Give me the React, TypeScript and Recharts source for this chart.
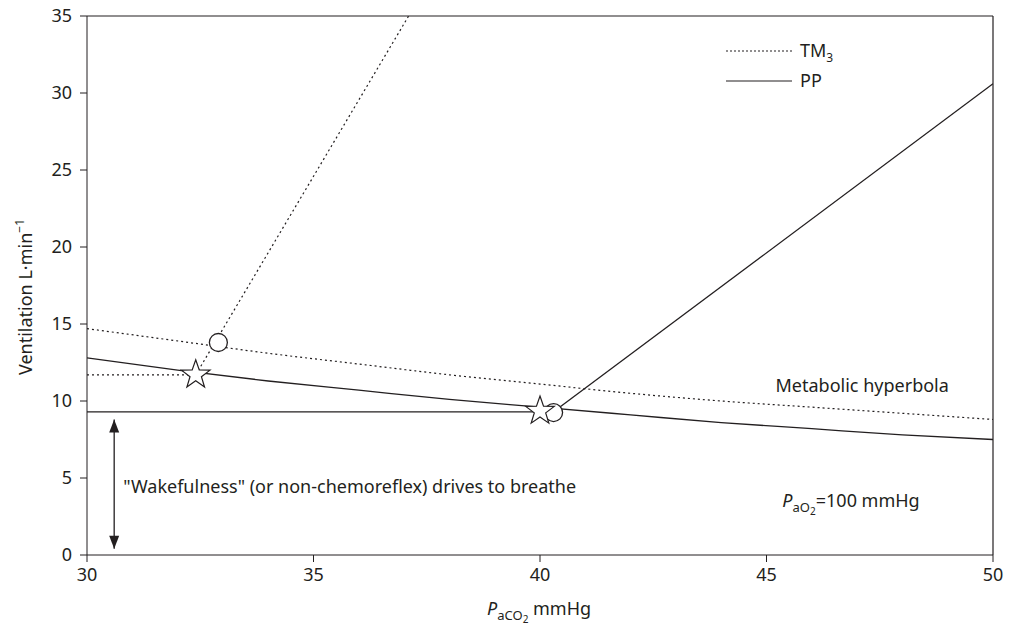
import { ComposedChart, Line, Scatter, XAxis, YAxis, ReferenceLine, Legend } from "recharts";

const INK = "#231f20";
const FONT = "'Noto Sans', sans-serif";

const xTicks = [30, 35, 40, 45, 50];
const yTicks = [0, 5, 10, 15, 20, 25, 30, 35];

// metabolic hyperbola for TM3 (dotted) and PP (solid)
const hyperTM3 = [
  { x: 30, y: 14.7 },
  { x: 32, y: 13.9 },
  { x: 34, y: 13.1 },
  { x: 36, y: 12.4 },
  { x: 38, y: 11.7 },
  { x: 40, y: 11.1 },
  { x: 42, y: 10.5 },
  { x: 44, y: 10.0 },
  { x: 46, y: 9.6 },
  { x: 48, y: 9.2 },
  { x: 50, y: 8.8 },
];
const hyperPP = [
  { x: 30, y: 12.8 },
  { x: 32, y: 12.0 },
  { x: 34, y: 11.3 },
  { x: 36, y: 10.7 },
  { x: 38, y: 10.1 },
  { x: 40, y: 9.6 },
  { x: 42, y: 9.1 },
  { x: 44, y: 8.6 },
  { x: 46, y: 8.2 },
  { x: 48, y: 7.8 },
  { x: 50, y: 7.5 },
];

// chemoreflex response lines
const tm3Flat = [
  { x: 30, y: 11.7 },
  { x: 32.4, y: 11.7 },
];
const tm3Rise = [
  { x: 32.4, y: 11.7 },
  { x: 37.1, y: 35 },
];
const ppFlat = [
  { x: 30, y: 9.3 },
  { x: 40, y: 9.3 },
];
const ppRise = [
  { x: 40.3, y: 9.3 },
  { x: 50, y: 30.6 },
];

// markers
const stars = [
  { x: 32.4, y: 11.7 },
  { x: 40.0, y: 9.35 },
];
const circles = [
  { x: 32.9, y: 13.8 },
  { x: 40.3, y: 9.25 },
];

// double arrow ("wakefulness" drive)
const wakeArrow = [
  { x: 30.6, y: 8.8 },
  { x: 30.6, y: 0.4 },
];

// text anchors (baseline of text)
const hyperNote = [{ x: 45.2, y: 10.6 }];
const wakeNote = [{ x: 30.8, y: 4.05 }];
const pao2Note = [{ x: 45.35, y: 3.1 }];

const StarShape = (p: any) => {
  const { cx, cy } = p;
  const pts: string[] = [];
  for (let i = 0; i < 10; i++) {
    const r = i % 2 === 0 ? 15 : 6;
    const a = -Math.PI / 2 + (i * Math.PI) / 5;
    pts.push(`${cx + r * Math.cos(a)},${cy + r * Math.sin(a)}`);
  }
  return <polygon points={pts.join(" ")} fill="#fff" stroke={INK} strokeWidth={1.2} />;
};

const CircleShape = (p: any) => (
  <circle cx={p.cx} cy={p.cy} r={9} fill="#fff" stroke={INK} strokeWidth={1.3} />
);

const ArrowHead = (p: any) => {
  const { cx, cy, index } = p;
  const d = index === 0 ? 1 : -1;
  return (
    <polygon
      key={`ah-${index}`}
      points={`${cx},${cy} ${cx - 5},${cy + d * 13} ${cx + 5},${cy + d * 13}`}
      fill={INK}
    />
  );
};

const HyperText = (p: any) => (
  <text x={p.cx} y={p.cy} fontSize={18} fontFamily={FONT} fill={INK}>
    Metabolic hyperbola
  </text>
);

const WakeText = (p: any) => (
  <text x={p.cx} y={p.cy} fontSize={18} fontFamily={FONT} fill={INK}>
    "Wakefulness" (or non-chemoreflex) drives to breathe
  </text>
);

const Pao2Text = (p: any) => (
  <text x={p.cx} y={p.cy} fontSize={18} fontFamily={FONT} fill={INK}>
    <tspan fontStyle="italic">P</tspan>
    <tspan fontSize={13} dy={5}>aO</tspan>
    <tspan fontSize={10} dy={3}>2</tspan>
    <tspan fontSize={18} dy={-8}>=100 mmHg</tspan>
  </text>
);

const XLabel = () => (
  <text x={487} y={615} fontSize={18} fontFamily={FONT} fill={INK}>
    <tspan fontStyle="italic">P</tspan>
    <tspan fontSize={13} dy={5}>aCO</tspan>
    <tspan fontSize={10} dy={3}>2</tspan>
    <tspan fontSize={18} dy={-8}> mmHg</tspan>
  </text>
);

const YLabel = () => (
  <text
    x={32}
    y={297}
    fontSize={18}
    fontFamily={FONT}
    fill={INK}
    textAnchor="middle"
    transform="rotate(-90, 32, 297)"
  >
    Ventilation L·min
    <tspan fontSize={12} dy={-8}>−1</tspan>
  </text>
);

const LegendBox = () => (
  <svg width={140} height={60}>
    <line x1={6} y1={15} x2={72} y2={15} stroke={INK} strokeWidth={1.2} strokeDasharray="2 2" />
    <text x={80} y={21} fontSize={18} fontFamily={FONT} fill={INK}>
      TM<tspan fontSize={12} dy={5}>3</tspan>
    </text>
    <line x1={6} y1={45} x2={72} y2={45} stroke={INK} strokeWidth={1.2} />
    <text x={80} y={51} fontSize={18} fontFamily={FONT} fill={INK}>
      PP
    </text>
  </svg>
);

export default function App() {
  const tick = { fontSize: 18, fontFamily: FONT, fill: INK };
  return (
    <div style={{ position: "absolute", left: 0, top: 0 }}>
      <ComposedChart width={1018} height={631} margin={{ top: 16, right: 25, bottom: 0, left: 0 }}>
        <XAxis
          dataKey="x"
          type="number"
          domain={[30, 50]}
          ticks={xTicks}
          allowDataOverflow
          height={76}
          tickSize={7}
          tickMargin={6}
          tick={tick}
          stroke={INK}
          label={{ content: () => <XLabel /> }}
        />
        <YAxis
          dataKey="y"
          type="number"
          domain={[0, 35]}
          ticks={yTicks}
          allowDataOverflow
          width={87}
          tickSize={7}
          tickMargin={8}
          tick={tick}
          stroke={INK}
          label={{ content: () => <YLabel /> }}
        />
        <ReferenceLine y={35} stroke={INK} strokeWidth={1.2} />
        <ReferenceLine x={50} stroke={INK} strokeWidth={1.2} />

        <Line data={hyperTM3} dataKey="y" type="monotone" stroke={INK} strokeWidth={1.2} strokeDasharray="2 3" dot={false} isAnimationActive={false} />
        <Line data={hyperPP} dataKey="y" type="monotone" stroke={INK} strokeWidth={1.3} dot={false} isAnimationActive={false} />
        <Line data={tm3Flat} dataKey="y" type="linear" stroke={INK} strokeWidth={1.2} strokeDasharray="2 3" dot={false} isAnimationActive={false} />
        <Line data={tm3Rise} dataKey="y" type="linear" stroke={INK} strokeWidth={1.2} strokeDasharray="2 3" dot={false} isAnimationActive={false} />
        <Line data={ppFlat} dataKey="y" type="linear" stroke={INK} strokeWidth={1.3} dot={false} isAnimationActive={false} />
        <Line data={ppRise} dataKey="y" type="linear" stroke={INK} strokeWidth={1.3} dot={false} isAnimationActive={false} />
        <Line data={wakeArrow} dataKey="y" type="linear" stroke={INK} strokeWidth={1.3} dot={ArrowHead} isAnimationActive={false} />

        <Scatter data={circles} dataKey="y" shape={CircleShape} isAnimationActive={false} />
        <Scatter data={stars} dataKey="y" shape={StarShape} isAnimationActive={false} />

        <Scatter data={hyperNote} dataKey="y" shape={HyperText} isAnimationActive={false} />
        <Scatter data={wakeNote} dataKey="y" shape={WakeText} isAnimationActive={false} />
        <Scatter data={pao2Note} dataKey="y" shape={Pao2Text} isAnimationActive={false} />

        <Legend
          layout="vertical"
          align="center"
          verticalAlign="middle"
          content={() => <LegendBox />}
          wrapperStyle={{ position: "absolute", left: 720, top: 36, width: 140, height: 60 }}
        />
      </ComposedChart>
    </div>
  );
}
